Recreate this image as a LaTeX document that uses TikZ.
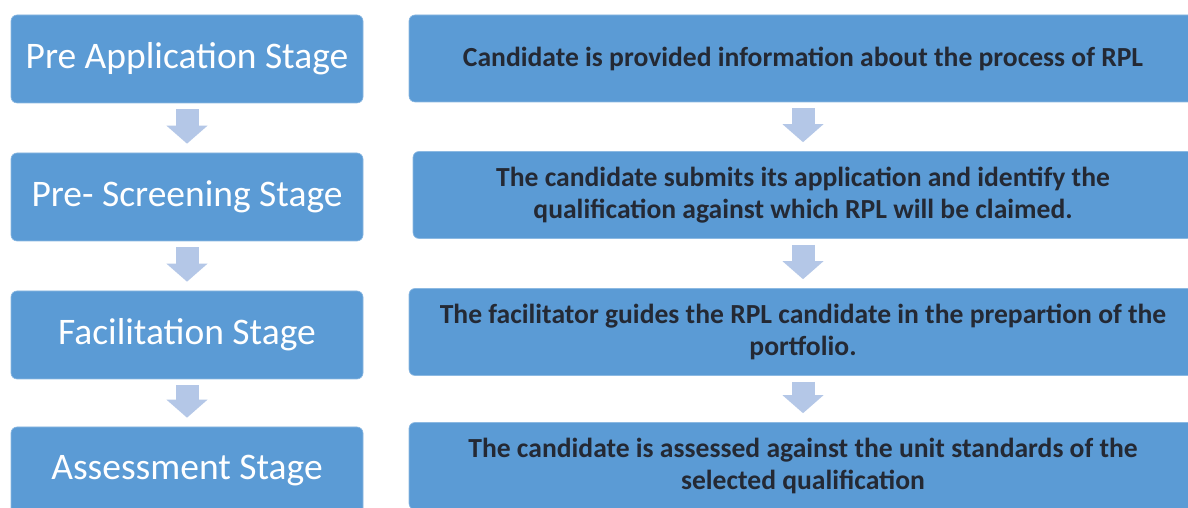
\documentclass[tikz,border=0pt]{standalone}
\usepackage{fontspec}
\setmainfont{Carlito}
\usetikzlibrary{arrows.meta, positioning}

\definecolor{stageblue}{RGB}{91,155,213}
\definecolor{arrowblue}{RGB}{180,199,231}
\definecolor{textdark}{RGB}{36,41,52}

\begin{document}
\begin{tikzpicture}[x=1pt, y=1pt,
  stagebox/.style={rounded corners=6pt, fill=stageblue, draw=stageblue!70!white, line width=0.6pt,
    minimum width=352pt, minimum height=88pt, inner sep=0pt, text=white,
    font=\fontsize{37.5}{42}\selectfont},
  infobox/.style={rounded corners=6pt, fill=stageblue, draw=stageblue!70!white, line width=0.6pt,
    minimum width=788pt, minimum height=87pt, inner sep=0pt, text=textdark, align=center,
    font=\bfseries\fontsize{27.6}{32}\selectfont},
  downarrow/.style={draw=arrowblue, line width=23pt, -{Triangle[width=40pt, length=18pt]},
    shorten <=6pt, shorten >=9pt}]

% Page frame
\fill[white] (0,0) rectangle (1188,508);
\clip (0,0) rectangle (1188,508);

% Stages (left)
\node[stagebox] (pre) at (187,449) {Pre Application Stage};
\node[stagebox] (scr) at (187,311) {Pre- Screening Stage};
\node[stagebox] (fac) at (187,173) {Facilitation Stage};
\node[stagebox] (ass) at (187,37)  {Assessment Stage};

% What happens in each stage (right)
\node[infobox] (info)   at (803,449.5) {Candidate is provided information about the process of RPL};
\node[infobox, minimum width=780pt] (apply) at (803,313)
  {The candidate submits its application and identify the\\qualification against which RPL will be claimed.};
\node[infobox] (guide)  at (803,176)
  {The facilitator guides the RPL candidate in the prepartion of the\\portfolio.};
\node[infobox] (assess) at (803,42)
  {The candidate is assessed against the unit standards of the\\selected qualification};

% Arrows
\draw[downarrow] (pre) -- (scr);
\draw[downarrow] (scr) -- (fac);
\draw[downarrow] (fac) -- (ass);
\draw[downarrow] (info) -- (apply);
\draw[downarrow] (apply) -- (guide);
\draw[downarrow] (guide) -- (assess);
\end{tikzpicture}
\end{document}
